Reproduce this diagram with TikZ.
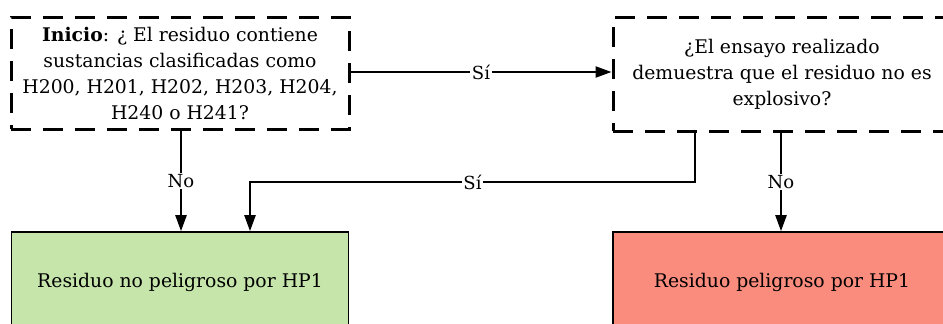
\documentclass[tikz,border=0pt]{standalone}
\usepackage{fontspec}
\setmainfont{DejaVu Serif}
\usetikzlibrary{arrows.meta}
\begin{document}
\begin{tikzpicture}[x=1pt,y=-1pt,
  qbox/.style={draw, line width=3pt, dash pattern=on 20pt off 12pt, align=center, font=\fontsize{18.8}{26}\selectfont, inner sep=0pt},
  rbox/.style={draw, line width=1.6pt, font=\fontsize{18.8}{26}\selectfont, inner sep=0pt},
  arr/.style={line width=2.2pt, -{Triangle[length=16pt,width=11pt]}},
  lbl/.style={fill=white, inner sep=1.5pt, font=\fontsize{18}{22}\selectfont}]
\useasboundingbox (0,0) rectangle (943,324);
\clip (0,0) rectangle (943,324);
\definecolor{gfill}{RGB}{198,229,170}
\definecolor{rfill}{RGB}{250,140,126}
\node[qbox, minimum width=338pt, minimum height=112pt] (q1) at (180,73)
  {\textbf{Inicio}: ¿ El residuo contiene\\sustancias clasificadas como\\H200, H201, H202, H203, H204,\\H240 o H241?};
\node[qbox, minimum width=338pt, minimum height=114pt] (q2) at (782,74)
  {¿El ensayo realizado\\demuestra que el residuo no es\\explosivo?};
\node[rbox, fill=gfill, minimum width=337pt, minimum height=100pt] (g) at (180,282)
  {Residuo no peligroso por HP1};
\node[rbox, fill=rfill, minimum width=338pt, minimum height=100pt] (r) at (782,282)
  {Residuo peligroso por HP1};
\draw[arr] (q1.east |- 0,72) -- node[lbl, pos=0.5]{Sí} (q2.west |- 0,72);
\draw[arr] (q1.south -| 181,0) -- node[lbl]{No} (g.north -| 181,0);
\coordinate (s1) at (695,182);
\coordinate (s2) at (250,182);
\draw[arr] (q2.south -| s1) -- (s1) -- node[lbl]{Sí} (s2) -- (g.north -| s2);
\draw[arr] (q2.south -| 781,0) -- node[lbl]{No} (r.north -| 781,0);
\end{tikzpicture}
\end{document}
